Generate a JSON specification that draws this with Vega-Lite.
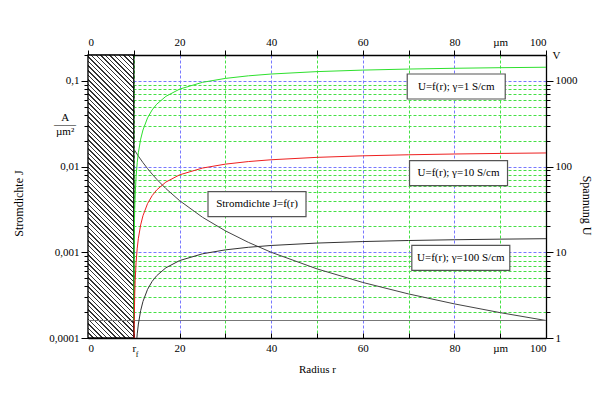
{
"$schema": "https://vega.github.io/schema/vega-lite/v6.json",
"width": 458, "height": 283,
"autosize": {"type": "none"},
"padding": {"left": 88, "top": 55, "right": 54, "bottom": 60},
"background": "#ffffff",
"config": {
 "view": {"stroke": null},
 "axis": {"labelFont": "Liberation Serif", "titleFont": "Liberation Serif", "labelFontSize": 11, "titleFontSize": 11, "titleFontWeight": "normal", "labelColor": "#000", "titleColor": "#000", "domainColor": "#000", "tickColor": "#000", "domainWidth": 1.3, "tickWidth": 1},
 "text": {"font": "Liberation Serif", "fontSize": 11, "color": "#000"}
},
"resolve": {"scale": {"y": "independent"}, "axis": {"x": "independent", "y": "independent"}},
"layer": [
  {"data": {"values": [{"J": 0.0001}]},
   "mark": {"type": "rule", "opacity": 0},
   "encoding": {
     "x": {"datum": 0, "type": "quantitative", "scale": {"domain": [0, 100], "nice": false, "zero": false},
       "axis": {"orient": "bottom", "values": [0,10,20,30,40,50,60,70,80,90,100],
         "labelExpr": "datum.value==10?'r':datum.value==90?'µm':datum.value%20==0?datum.label:''",
         "grid": true, "gridDash": [3,2], "gridWidth": 1,
         "gridColor": {"condition": {"test": "datum.value%20==0", "value": "#7878ff"}, "value": "#44e044"},
         "tickSize": -5, "labelPadding": 9, "title": "Radius r", "titleY": 31, "titleBaseline": "middle"}},
     "y": {"field": "J", "type": "quantitative", "scale": {"type": "log", "domain": [0.0001, 0.2], "nice": false},
       "axis": {"orient": "left",
         "values": [0.0001,0.0002,0.0003,0.0004,0.0005,0.0006,0.0007,0.0008,0.0009,0.001,0.002,0.003,0.004,0.005,0.006,0.007,0.008,0.009,0.01,0.02,0.03,0.04,0.05,0.06,0.07,0.08,0.09,0.1,0.2],
         "labelExpr": "datum.value==0.1?'0,1':datum.value==0.01?'0,01':datum.value==0.001?'0,001':datum.value==0.0001?'0,0001':''",
         "tickSize": {"condition": {"test": "datum.value==0.1||datum.value==0.01||datum.value==0.001||datum.value==0.0001", "value": 7}, "value": 4},
         "grid": true, "gridDash": [3,2], "gridWidth": 1,
         "gridColor": {"condition": {"test": "datum.value==0.1||datum.value==0.01||datum.value==0.001||datum.value==0.0001", "value": "#7878ff"}, "value": "#44e044"},
         "labelPadding": 2, "title": "Stromdichte J", "titleFontSize": 12, "titleX": -70, "titleY": 148, "titleBaseline": "middle"}}
   }},
  {"data": {"values": [{"r0": 0, "r1": 10}]},
   "mark": {"type": "rect", "stroke": "#000", "strokeWidth": 1.3,
     "fill": {"gradient": "linear", "x1": 0, "y1": 1, "x2": 0.1832, "y2": -0.1322, "stops": [
{"offset":0,"color":"#333"},{"offset":0.0045,"color":"#333"},{"offset":0.0045,"color":"#fff"},{"offset":0.014,"color":"#fff"},
{"offset":0.014,"color":"#333"},{"offset":0.0185,"color":"#333"},{"offset":0.0185,"color":"#fff"},{"offset":0.028,"color":"#fff"},
{"offset":0.028,"color":"#333"},{"offset":0.0325,"color":"#333"},{"offset":0.0325,"color":"#fff"},{"offset":0.042,"color":"#fff"},
{"offset":0.042,"color":"#333"},{"offset":0.0465,"color":"#333"},{"offset":0.0465,"color":"#fff"},{"offset":0.056,"color":"#fff"},
{"offset":0.056,"color":"#333"},{"offset":0.0605,"color":"#333"},{"offset":0.0605,"color":"#fff"},{"offset":0.07,"color":"#fff"},
{"offset":0.07,"color":"#333"},{"offset":0.0745,"color":"#333"},{"offset":0.0745,"color":"#fff"},{"offset":0.084,"color":"#fff"},
{"offset":0.084,"color":"#333"},{"offset":0.0885,"color":"#333"},{"offset":0.0885,"color":"#fff"},{"offset":0.098,"color":"#fff"},
{"offset":0.098,"color":"#333"},{"offset":0.1025,"color":"#333"},{"offset":0.1025,"color":"#fff"},{"offset":0.112,"color":"#fff"},
{"offset":0.112,"color":"#333"},{"offset":0.1165,"color":"#333"},{"offset":0.1165,"color":"#fff"},{"offset":0.126,"color":"#fff"},
{"offset":0.126,"color":"#333"},{"offset":0.1305,"color":"#333"},{"offset":0.1305,"color":"#fff"},{"offset":0.14,"color":"#fff"},
{"offset":0.14,"color":"#333"},{"offset":0.1445,"color":"#333"},{"offset":0.1445,"color":"#fff"},{"offset":0.154,"color":"#fff"},
{"offset":0.154,"color":"#333"},{"offset":0.1585,"color":"#333"},{"offset":0.1585,"color":"#fff"},{"offset":0.168,"color":"#fff"},
{"offset":0.168,"color":"#333"},{"offset":0.1725,"color":"#333"},{"offset":0.1725,"color":"#fff"},{"offset":0.182,"color":"#fff"},
{"offset":0.182,"color":"#333"},{"offset":0.1865,"color":"#333"},{"offset":0.1865,"color":"#fff"},{"offset":0.196,"color":"#fff"},
{"offset":0.196,"color":"#333"},{"offset":0.2005,"color":"#333"},{"offset":0.2005,"color":"#fff"},{"offset":0.21,"color":"#fff"},
{"offset":0.21,"color":"#333"},{"offset":0.2145,"color":"#333"},{"offset":0.2145,"color":"#fff"},{"offset":0.224,"color":"#fff"},
{"offset":0.224,"color":"#333"},{"offset":0.2285,"color":"#333"},{"offset":0.2285,"color":"#fff"},{"offset":0.238,"color":"#fff"},
{"offset":0.238,"color":"#333"},{"offset":0.2425,"color":"#333"},{"offset":0.2425,"color":"#fff"},{"offset":0.252,"color":"#fff"},
{"offset":0.252,"color":"#333"},{"offset":0.2565,"color":"#333"},{"offset":0.2565,"color":"#fff"},{"offset":0.266,"color":"#fff"},
{"offset":0.266,"color":"#333"},{"offset":0.2705,"color":"#333"},{"offset":0.2705,"color":"#fff"},{"offset":0.28,"color":"#fff"},
{"offset":0.28,"color":"#333"},{"offset":0.2845,"color":"#333"},{"offset":0.2845,"color":"#fff"},{"offset":0.294,"color":"#fff"},
{"offset":0.294,"color":"#333"},{"offset":0.2985,"color":"#333"},{"offset":0.2985,"color":"#fff"},{"offset":0.308,"color":"#fff"},
{"offset":0.308,"color":"#333"},{"offset":0.3125,"color":"#333"},{"offset":0.3125,"color":"#fff"},{"offset":0.322,"color":"#fff"},
{"offset":0.322,"color":"#333"},{"offset":0.3265,"color":"#333"},{"offset":0.3265,"color":"#fff"},{"offset":0.336,"color":"#fff"},
{"offset":0.336,"color":"#333"},{"offset":0.3405,"color":"#333"},{"offset":0.3405,"color":"#fff"},{"offset":0.35,"color":"#fff"},
{"offset":0.35,"color":"#333"},{"offset":0.3545,"color":"#333"},{"offset":0.3545,"color":"#fff"},{"offset":0.364,"color":"#fff"},
{"offset":0.364,"color":"#333"},{"offset":0.3685,"color":"#333"},{"offset":0.3685,"color":"#fff"},{"offset":0.378,"color":"#fff"},
{"offset":0.378,"color":"#333"},{"offset":0.3825,"color":"#333"},{"offset":0.3825,"color":"#fff"},{"offset":0.392,"color":"#fff"},
{"offset":0.392,"color":"#333"},{"offset":0.3965,"color":"#333"},{"offset":0.3965,"color":"#fff"},{"offset":0.406,"color":"#fff"},
{"offset":0.406,"color":"#333"},{"offset":0.4105,"color":"#333"},{"offset":0.4105,"color":"#fff"},{"offset":0.42,"color":"#fff"},
{"offset":0.42,"color":"#333"},{"offset":0.4245,"color":"#333"},{"offset":0.4245,"color":"#fff"},{"offset":0.434,"color":"#fff"},
{"offset":0.434,"color":"#333"},{"offset":0.4385,"color":"#333"},{"offset":0.4385,"color":"#fff"},{"offset":0.448,"color":"#fff"},
{"offset":0.448,"color":"#333"},{"offset":0.4525,"color":"#333"},{"offset":0.4525,"color":"#fff"},{"offset":0.462,"color":"#fff"},
{"offset":0.462,"color":"#333"},{"offset":0.4665,"color":"#333"},{"offset":0.4665,"color":"#fff"},{"offset":0.476,"color":"#fff"},
{"offset":0.476,"color":"#333"},{"offset":0.4805,"color":"#333"},{"offset":0.4805,"color":"#fff"},{"offset":0.49,"color":"#fff"},
{"offset":0.49,"color":"#333"},{"offset":0.4945,"color":"#333"},{"offset":0.4945,"color":"#fff"},{"offset":0.504,"color":"#fff"},
{"offset":0.504,"color":"#333"},{"offset":0.5085,"color":"#333"},{"offset":0.5085,"color":"#fff"},{"offset":0.518,"color":"#fff"},
{"offset":0.518,"color":"#333"},{"offset":0.5225,"color":"#333"},{"offset":0.5225,"color":"#fff"},{"offset":0.532,"color":"#fff"},
{"offset":0.532,"color":"#333"},{"offset":0.5365,"color":"#333"},{"offset":0.5365,"color":"#fff"},{"offset":0.546,"color":"#fff"},
{"offset":0.546,"color":"#333"},{"offset":0.5505,"color":"#333"},{"offset":0.5505,"color":"#fff"},{"offset":0.56,"color":"#fff"},
{"offset":0.56,"color":"#333"},{"offset":0.5645,"color":"#333"},{"offset":0.5645,"color":"#fff"},{"offset":0.574,"color":"#fff"},
{"offset":0.574,"color":"#333"},{"offset":0.5785,"color":"#333"},{"offset":0.5785,"color":"#fff"},{"offset":0.588,"color":"#fff"},
{"offset":0.588,"color":"#333"},{"offset":0.5925,"color":"#333"},{"offset":0.5925,"color":"#fff"},{"offset":0.602,"color":"#fff"},
{"offset":0.602,"color":"#333"},{"offset":0.6065,"color":"#333"},{"offset":0.6065,"color":"#fff"},{"offset":0.616,"color":"#fff"},
{"offset":0.616,"color":"#333"},{"offset":0.6205,"color":"#333"},{"offset":0.6205,"color":"#fff"},{"offset":0.63,"color":"#fff"},
{"offset":0.63,"color":"#333"},{"offset":0.6345,"color":"#333"},{"offset":0.6345,"color":"#fff"},{"offset":0.644,"color":"#fff"},
{"offset":0.644,"color":"#333"},{"offset":0.6485,"color":"#333"},{"offset":0.6485,"color":"#fff"},{"offset":0.658,"color":"#fff"},
{"offset":0.658,"color":"#333"},{"offset":0.6625,"color":"#333"},{"offset":0.6625,"color":"#fff"},{"offset":0.672,"color":"#fff"},
{"offset":0.672,"color":"#333"},{"offset":0.6765,"color":"#333"},{"offset":0.6765,"color":"#fff"},{"offset":0.686,"color":"#fff"},
{"offset":0.686,"color":"#333"},{"offset":0.6905,"color":"#333"},{"offset":0.6905,"color":"#fff"},{"offset":0.7,"color":"#fff"},
{"offset":0.7,"color":"#333"},{"offset":0.7045,"color":"#333"},{"offset":0.7045,"color":"#fff"},{"offset":0.714,"color":"#fff"},
{"offset":0.714,"color":"#333"},{"offset":0.7185,"color":"#333"},{"offset":0.7185,"color":"#fff"},{"offset":0.728,"color":"#fff"},
{"offset":0.728,"color":"#333"},{"offset":0.7325,"color":"#333"},{"offset":0.7325,"color":"#fff"},{"offset":0.742,"color":"#fff"},
{"offset":0.742,"color":"#333"},{"offset":0.7465,"color":"#333"},{"offset":0.7465,"color":"#fff"},{"offset":0.756,"color":"#fff"},
{"offset":0.756,"color":"#333"},{"offset":0.7605,"color":"#333"},{"offset":0.7605,"color":"#fff"},{"offset":0.77,"color":"#fff"},
{"offset":0.77,"color":"#333"},{"offset":0.7745,"color":"#333"},{"offset":0.7745,"color":"#fff"},{"offset":0.784,"color":"#fff"},
{"offset":0.784,"color":"#333"},{"offset":0.7885,"color":"#333"},{"offset":0.7885,"color":"#fff"},{"offset":0.798,"color":"#fff"},
{"offset":0.798,"color":"#333"},{"offset":0.8025,"color":"#333"},{"offset":0.8025,"color":"#fff"},{"offset":0.812,"color":"#fff"},
{"offset":0.812,"color":"#333"},{"offset":0.8165,"color":"#333"},{"offset":0.8165,"color":"#fff"},{"offset":0.826,"color":"#fff"},
{"offset":0.826,"color":"#333"},{"offset":0.8305,"color":"#333"},{"offset":0.8305,"color":"#fff"},{"offset":0.84,"color":"#fff"},
{"offset":0.84,"color":"#333"},{"offset":0.8445,"color":"#333"},{"offset":0.8445,"color":"#fff"},{"offset":0.854,"color":"#fff"},
{"offset":0.854,"color":"#333"},{"offset":0.8585,"color":"#333"},{"offset":0.8585,"color":"#fff"},{"offset":0.868,"color":"#fff"},
{"offset":0.868,"color":"#333"},{"offset":0.8725,"color":"#333"},{"offset":0.8725,"color":"#fff"},{"offset":0.882,"color":"#fff"},
{"offset":0.882,"color":"#333"},{"offset":0.8865,"color":"#333"},{"offset":0.8865,"color":"#fff"},{"offset":0.896,"color":"#fff"},
{"offset":0.896,"color":"#333"},{"offset":0.9005,"color":"#333"},{"offset":0.9005,"color":"#fff"},{"offset":0.91,"color":"#fff"},
{"offset":0.91,"color":"#333"},{"offset":0.9145,"color":"#333"},{"offset":0.9145,"color":"#fff"},{"offset":0.924,"color":"#fff"},
{"offset":0.924,"color":"#333"},{"offset":0.9285,"color":"#333"},{"offset":0.9285,"color":"#fff"},{"offset":0.938,"color":"#fff"},
{"offset":0.938,"color":"#333"},{"offset":0.9425,"color":"#333"},{"offset":0.9425,"color":"#fff"},{"offset":0.952,"color":"#fff"},
{"offset":0.952,"color":"#333"},{"offset":0.9565,"color":"#333"},{"offset":0.9565,"color":"#fff"},{"offset":0.966,"color":"#fff"},
{"offset":0.966,"color":"#333"},{"offset":0.9705,"color":"#333"},{"offset":0.9705,"color":"#fff"},{"offset":0.98,"color":"#fff"},
{"offset":0.98,"color":"#333"},{"offset":0.9845,"color":"#333"},{"offset":0.9845,"color":"#fff"},{"offset":0.994,"color":"#fff"},
{"offset":0.994,"color":"#333"},{"offset":0.9985,"color":"#333"},{"offset":0.9985,"color":"#fff"},{"offset":1,"color":"#fff"}
     ]}},
   "encoding": {
     "x": {"field": "r0", "type": "quantitative", "scale": {"domain": [0, 100], "nice": false, "zero": false}, "axis": null},
     "x2": {"field": "r1"}
   }},
  {"data": {"values": [
    {"r": 10, "J": 0.016}, {"r": 11, "J": 0.013223}, {"r": 12, "J": 0.011111}, {"r": 13, "J": 0.0094675},
    {"r": 14, "J": 0.0081633}, {"r": 15, "J": 0.0071111}, {"r": 17, "J": 0.0055363}, {"r": 20, "J": 0.004},
    {"r": 25, "J": 0.00256}, {"r": 30, "J": 0.0017778}, {"r": 35, "J": 0.0013061}, {"r": 40, "J": 0.001},
    {"r": 50, "J": 0.00064}, {"r": 60, "J": 0.00044444}, {"r": 70, "J": 0.00032653}, {"r": 80, "J": 0.00025},
    {"r": 90, "J": 0.00019753}, {"r": 100, "J": 0.00016}]},
   "mark": {"type": "line", "color": "#444", "strokeWidth": 1, "clip": true},
   "encoding": {
     "x": {"field": "r", "type": "quantitative", "scale": {"domain": [0, 100], "nice": false, "zero": false}, "axis": null},
     "y": {"field": "J", "type": "quantitative", "scale": {"type": "log", "domain": [0.0001, 0.2], "nice": false}, "axis": null}
   }},
  {"data": {"values": [{"J": 0.00016}]},
   "mark": {"type": "rule", "color": "#777", "strokeWidth": 1},
   "encoding": {"y": {"field": "J", "type": "quantitative", "scale": {"type": "log", "domain": [0.0001, 0.2], "nice": false}, "axis": null}}},
  {"data": {"values": [
  {"r":10.01,"U":1.6,"g":"1"},{"r":10.02,"U":3.19,"g":"1"},{"r":10.05,"U":7.96,"g":"1"},{"r":10.1,"U":15.84,"g":"1"},{"r":10.2,"U":31.37,"g":"1"},{"r":10.3,"U":46.6,"g":"1"},{"r":10.5,"U":76.19,"g":"1"},{"r":10.75,"U":111.63,"g":"1"},{"r":11,"U":145.45,"g":"1"},{"r":11.5,"U":208.7,"g":"1"},{"r":12,"U":266.67,"g":"1"},{"r":13,"U":369.23,"g":"1"},{"r":14,"U":457.14,"g":"1"},{"r":15,"U":533.33,"g":"1"},{"r":17,"U":658.82,"g":"1"},{"r":20,"U":800,"g":"1"},{"r":25,"U":960,"g":"1"},{"r":30,"U":1066.67,"g":"1"},{"r":35,"U":1142.86,"g":"1"},{"r":40,"U":1200,"g":"1"},{"r":50,"U":1280,"g":"1"},{"r":60,"U":1333.33,"g":"1"},{"r":70,"U":1371.43,"g":"1"},{"r":80,"U":1400,"g":"1"},{"r":90,"U":1422.22,"g":"1"},{"r":100,"U":1440,"g":"1"},
  {"r":10.05,"U":0.796,"g":"10"},{"r":10.1,"U":1.584,"g":"10"},{"r":10.2,"U":3.137,"g":"10"},{"r":10.3,"U":4.66,"g":"10"},{"r":10.5,"U":7.619,"g":"10"},{"r":10.75,"U":11.163,"g":"10"},{"r":11,"U":14.545,"g":"10"},{"r":11.5,"U":20.87,"g":"10"},{"r":12,"U":26.667,"g":"10"},{"r":13,"U":36.923,"g":"10"},{"r":14,"U":45.714,"g":"10"},{"r":15,"U":53.333,"g":"10"},{"r":17,"U":65.882,"g":"10"},{"r":20,"U":80,"g":"10"},{"r":25,"U":96,"g":"10"},{"r":30,"U":106.667,"g":"10"},{"r":35,"U":114.286,"g":"10"},{"r":40,"U":120,"g":"10"},{"r":50,"U":128,"g":"10"},{"r":60,"U":133.333,"g":"10"},{"r":70,"U":137.143,"g":"10"},{"r":80,"U":140,"g":"10"},{"r":90,"U":142.222,"g":"10"},{"r":100,"U":144,"g":"10"},
  {"r":10.5,"U":0.7619,"g":"100"},{"r":10.75,"U":1.1163,"g":"100"},{"r":11,"U":1.4545,"g":"100"},{"r":11.5,"U":2.087,"g":"100"},{"r":12,"U":2.6667,"g":"100"},{"r":13,"U":3.6923,"g":"100"},{"r":14,"U":4.5714,"g":"100"},{"r":15,"U":5.3333,"g":"100"},{"r":17,"U":6.5882,"g":"100"},{"r":20,"U":8,"g":"100"},{"r":25,"U":9.6,"g":"100"},{"r":30,"U":10.667,"g":"100"},{"r":35,"U":11.429,"g":"100"},{"r":40,"U":12,"g":"100"},{"r":50,"U":12.8,"g":"100"},{"r":60,"U":13.333,"g":"100"},{"r":70,"U":13.714,"g":"100"},{"r":80,"U":14,"g":"100"},{"r":90,"U":14.222,"g":"100"},{"r":100,"U":14.4,"g":"100"}
   ]},
   "mark": {"type": "line", "strokeWidth": 1, "clip": true},
   "encoding": {
     "x": {"field": "r", "type": "quantitative", "scale": {"domain": [0, 100], "nice": false, "zero": false},
       "axis": {"orient": "top", "values": [0,10,20,30,40,50,60,70,80,90,100],
         "labelExpr": "datum.value==90?'µm':datum.value%20==0?datum.label:''",
         "grid": false, "tickSize": 5, "labelPadding": 3, "title": null}},
     "y": {"field": "U", "type": "quantitative", "scale": {"type": "log", "domain": [1, 2000], "nice": false},
       "axis": {"orient": "right",
         "values": [1,2,3,4,5,6,7,8,9,10,20,30,40,50,60,70,80,90,100,200,300,400,500,600,700,800,900,1000,2000],
         "labelExpr": "datum.value==2000?'V':datum.value==1000?'1000':datum.value==100?'100':datum.value==10?'10':datum.value==1?'1':''",
         "tickSize": {"condition": {"test": "datum.value==1||datum.value==10||datum.value==100||datum.value==1000", "value": 7}, "value": 4},
         "tickOpacity": {"condition": {"test": "datum.value==2000", "value": 0}, "value": 1},
         "grid": false, "labelPadding": 2, "title": "Spannung U", "titleFontSize": 12, "titleX": 40, "titleY": 150, "titleBaseline": "middle"}},
     "color": {"field": "g", "type": "nominal", "scale": {"domain": ["1", "10", "100"], "range": ["#2ee02e", "#ee2020", "#333333"]}, "legend": null}
   }},
  {"data": {"values": [
    {"r": 80.4, "J": 0.0858, "label": "U=f(r); γ=1 S/cm"},
    {"r": 80.9, "J": 0.0084, "label": "U=f(r); γ=10 S/cm"},
    {"r": 81.4, "J": 0.00086, "label": "U=f(r); γ=100 S/cm"},
    {"r": 36.9, "J": 0.00365, "label": "Stromdichte J=f(r)"}]},
   "mark": {"type": "rect", "width": 98, "height": 25, "fill": "#fff", "stroke": "#555", "strokeWidth": 1.2},
   "encoding": {"x": {"field": "r", "type": "quantitative", "axis": null},
     "y": {"field": "J", "type": "quantitative", "scale": {"type": "log", "domain": [0.0001, 0.2], "nice": false}, "axis": null}}},
  {"data": {"values": [
    {"r": 80.4, "J": 0.0858, "label": "U=f(r); γ=1 S/cm"},
    {"r": 80.9, "J": 0.0084, "label": "U=f(r); γ=10 S/cm"},
    {"r": 81.4, "J": 0.00086, "label": "U=f(r); γ=100 S/cm"},
    {"r": 36.9, "J": 0.00365, "label": "Stromdichte J=f(r)"}]},
   "mark": {"type": "text", "fontSize": 11},
   "encoding": {"x": {"field": "r", "type": "quantitative", "axis": null},
     "y": {"field": "J", "type": "quantitative", "scale": {"type": "log", "domain": [0.0001, 0.2], "nice": false}, "axis": null},
     "text": {"field": "label"}}},
  {"data": {"values": [{"unit": "A/µm²", "J": 0.0364}]},
   "mark": {"type": "text", "fontSize": 11, "lineHeight": 7, "baseline": "middle", "text": ["A", "——", "µm²"]},
   "encoding": {"x": {"datum": -5, "type": "quantitative", "axis": null},
     "y": {"field": "J", "type": "quantitative", "scale": {"type": "log", "domain": [0.0001, 0.2], "nice": false}, "axis": null}}},
  {"data": {"values": [{"sub": "f", "J": 0.000064}]},
   "mark": {"type": "text", "fontSize": 8, "align": "left"},
   "encoding": {"x": {"datum": 10.45, "type": "quantitative", "axis": null},
     "y": {"field": "J", "type": "quantitative", "scale": {"type": "log", "domain": [0.0001, 0.2], "nice": false}, "axis": null},
     "text": {"field": "sub"}}}
]
}
